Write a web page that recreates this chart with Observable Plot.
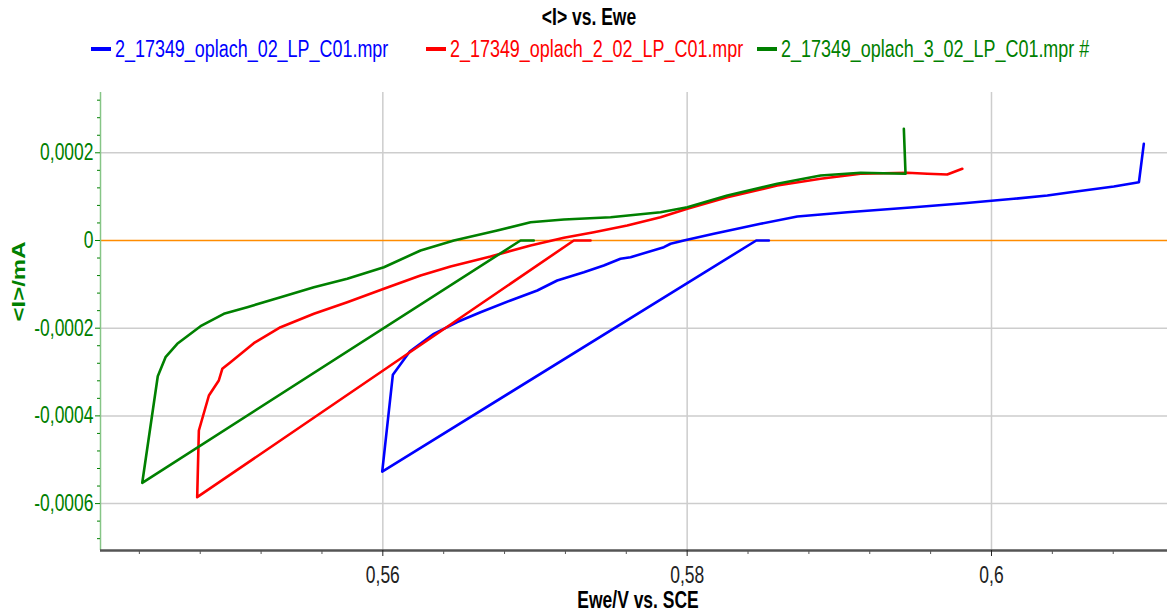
<!DOCTYPE html>
<html><head><meta charset="utf-8">
<script src="https://cdn.jsdelivr.net/npm/d3@7"></script>
<script src="https://cdn.jsdelivr.net/npm/@observablehq/plot@0.6"></script>
<style>
body{margin:0;background:#fff;font-family:"Liberation Sans",Arial,sans-serif;}
#head{position:relative;width:1170px;height:70px;}
.t{position:absolute;white-space:nowrap;transform-origin:0 50%;transform:scaleX(0.78);font-size:23px;line-height:23px;}
.sw{position:absolute;height:4px;width:20px;}
#chart svg{display:block;}
</style></head><body>
<div id="head"></div>
<div id="chart"></div>
<script>
const title = "<I> vs. Ewe";
const xLabel = "Ewe/V vs. SCE";
const yLabel = "<I>/mA";
const seriesNames = ["2_17349_oplach_02_LP_C01.mpr", "2_17349_oplach_2_02_LP_C01.mpr", "2_17349_oplach_3_02_LP_C01.mpr #"];
const seriesColors = ["#0000ff", "#ff0000", "#008000"];

const blueE = [0.58537,0.58454,0.55996,0.56066,0.56177,0.56335,0.56489,0.56642,0.56839,0.57015,0.57146,0.57321,0.57452,0.57562,0.57628,0.57847,0.57891,0.57978,0.58175,0.58329,0.58482,0.58724,0.59052,0.5949,0.59818,0.60147,0.60367,0.6052,0.60804,0.60969,0.61001];
const blueI = [0,0,-0.000527,-0.000306,-0.000253,-0.000213,-0.000186,-0.0001635,-0.0001368,-0.000114,-0.0000912,-0.0000723,-0.000057,-0.0000417,-0.0000381,-0.0000153,-0.0000075,0,0.0000153,0.0000267,0.0000381,0.0000547,0.0000645,0.0000759,0.0000851,0.0000951,0.0001026,0.0001101,0.0001231,0.000133,0.0002205];
const redE = [0.57365,0.57255,0.54780,0.54791,0.54857,0.54922,0.54945,0.54999,0.55152,0.55328,0.55547,0.55766,0.56007,0.56248,0.56445,0.56708,0.56971,0.5719,0.57387,0.57606,0.57825,0.58001,0.58264,0.58592,0.58877,0.5914,0.59446,0.59578,0.59709,0.59808];
const redI = [0,0,-0.0005854,-0.0004333,-0.0003535,-0.0003193,-0.0002926,-0.0002775,-0.0002342,-0.0001977,-0.0001672,-0.0001407,-0.0001101,-0.0000798,-0.0000593,-0.0000365,-0.0000114,0.0000062,0.0000189,0.0000342,0.0000531,0.0000723,0.0000987,0.0001254,0.0001407,0.0001521,0.0001544,0.0001521,0.0001505,0.0001635];
const greenE = [0.56992,0.56905,0.54419,0.54521,0.54572,0.54649,0.54802,0.54955,0.55109,0.55328,0.55547,0.55766,0.56007,0.56248,0.56467,0.56752,0.56971,0.5719,0.57497,0.57825,0.58001,0.58264,0.58592,0.58877,0.5914,0.59435,0.59424];
const greenI = [0,0,-0.0005526,-0.0003095,-0.0002661,-0.0002356,-0.0001954,-0.0001672,-0.0001521,-0.0001293,-0.0001065,-0.0000873,-0.0000609,-0.0000228,0,0.0000228,0.0000417,0.0000479,0.0000531,0.0000645,0.0000759,0.0001026,0.0001293,0.0001482,0.0001544,0.0001521,0.0002547];

const xDomain = [0.541446, 0.611567];
const yDomain = [-0.000707, 0.0003375];
const xMajorTicks = [0.56, 0.58, 0.6];
const xMinorTicks = [0.544,0.548,0.552,0.556,0.564,0.568,0.572,0.576,0.584,0.588,0.592,0.596,0.604,0.608];
const yMajorTicks = [-0.0006, -0.0004, -0.0002, 0, 0.0002];
const yGridTicks = [-0.0006, -0.0004, -0.0002, 0.0002];
const yMinorTicks = [-0.00068,-0.00064,-0.00056,-0.00052,-0.00048,-0.00044,-0.00036,-0.00032,-0.00028,-0.00024,-0.00016,-0.00012,-0.00008,-0.00004,0.00004,0.00008,0.00012,0.00016,0.00024,0.00028,0.00032];

const SX = 0.76;
// header: title + legend
const head = document.getElementById("head");
const tdiv = document.createElement("div");
tdiv.textContent = title;
tdiv.style.cssText = "position:absolute;left:4px;top:6px;width:1170px;text-align:center;font-weight:bold;font-size:23px;line-height:23px;transform:scaleX(0.76);transform-origin:50% 50%;color:#000;";
head.appendChild(tdiv);
const legX = [[91,115],[426,450],[757,781]];
seriesNames.forEach((n,i)=>{
  const sw = document.createElement("div");
  sw.className = "sw";
  sw.style.left = legX[i][0]+"px"; sw.style.top = "47px"; sw.style.background = seriesColors[i];
  head.appendChild(sw);
  const t = document.createElement("div");
  t.className = "t"; t.textContent = n; t.style.color = seriesColors[i];
  t.style.left = legX[i][1]+"px"; t.style.top = "38px";
  head.appendChild(t);
});

const series = [[blueE, blueI], [redE, redI], [greenE, greenI]];
const rows = [];
series.forEach(([E, I], s) => E.forEach((e, k) => rows.push({E: e, I: I[k], name: seriesNames[s]})));

const fmtX = d => String(d).replace(".", ",");
const fmtY = d => d === 0 ? "0" : d.toFixed(4).replace(".", ",");

const svg = Plot.plot({
  width: 1170, height: 545,
  marginTop: 22, marginBottom: 65, marginLeft: 100, marginRight: 3,
  style: {fontFamily: "'Liberation Sans', Arial, sans-serif", background: "#fff"},
  x: {domain: xDomain},
  y: {domain: yDomain},
  color: {domain: seriesNames, range: seriesColors},
  marks: [
    Plot.ruleX(xMajorTicks, {stroke: "#cdcdcd", strokeWidth: 1.5}),
    Plot.ruleY(yGridTicks, {stroke: "#cdcdcd", strokeWidth: 1.5}),
    Plot.ruleY([0], {stroke: "#ff8c00", strokeWidth: 1.3}),
    Plot.line(rows, {x: "E", y: "I", z: "name", stroke: "name", strokeWidth: 2.6, strokeLinejoin: "round"}),
    Plot.ruleX([xDomain[0]], {stroke: "#86c586", strokeWidth: 1.5}),
    Plot.ruleY([yDomain[0]], {stroke: "#555", strokeWidth: 2.5}),
    Plot.axisX(xMinorTicks, {tickSize: 4, tickFormat: () => "", stroke: "#555", label: null}),
    Plot.axisX(xMajorTicks, {tickSize: 6, tickPadding: 10, tickFormat: fmtX, fontSize: 23, color: "#222", label: null}),
    Plot.axisY(yMinorTicks, {tickSize: 3, tickFormat: () => "", color: "#008000", label: null}),
    Plot.axisY(yMajorTicks, {tickSize: 5, tickPadding: 2, tickFormat: fmtY, fontSize: 23, color: "#008000", label: null}),
    Plot.text([xLabel], {frameAnchor: "bottom", dx: 4, dy: 57, fontSize: 23, fontWeight: "bold", fill: "#000"}),
    Plot.text([yLabel], {frameAnchor: "left", dx: -81, rotate: -90, fontSize: 24, fontWeight: "bold", fill: "#008000"})
  ]
});
d3.select(svg).selectAll("text").each(function() {
  const t = this.getAttribute("transform") || "";
  const rot = /rotate/.test(t);
  this.setAttribute("transform", t + (rot ? ` scale(1,${SX})` : ` scale(${SX},1)`));
});
document.getElementById("chart").appendChild(svg);
</script></body></html>
